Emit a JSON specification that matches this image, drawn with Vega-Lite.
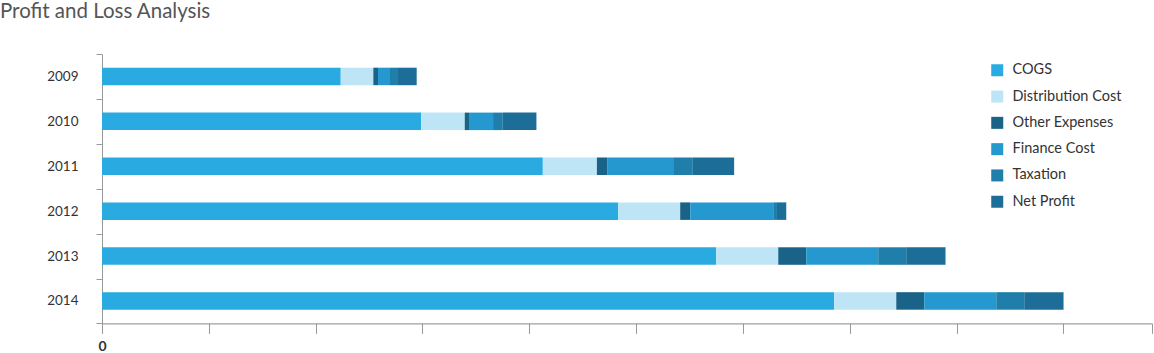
{
  "$schema": "https://vega.github.io/schema/vega-lite/v6.json",
  "width": 1050,
  "height": 269.4,
  "autosize": {"type": "none"},
  "padding": {"left": 102, "top": 54, "right": 2, "bottom": 30},
  "background": "white",
  "title": {
    "text": "Profit and Loss Analysis",
    "anchor": "start",
    "frame": "group",
    "offset": 20,
    "dx": -102,
    "dy": -4,
    "font": "Lato",
    "fontSize": 20.5,
    "fontWeight": "normal",
    "color": "#555555"
  },
  "config": {
    "view": {"stroke": null},
    "font": "Lato"
  },
  "data": {
    "values": [
      {"year": "2009", "item": "COGS", "k": 1, "value": 223.5},
      {"year": "2009", "item": "Distribution Cost", "k": 2, "value": 30.5},
      {"year": "2009", "item": "Other Expenses", "k": 3, "value": 4.4},
      {"year": "2009", "item": "Finance Cost", "k": 4, "value": 11.2},
      {"year": "2009", "item": "Taxation", "k": 5, "value": 7.5},
      {"year": "2009", "item": "Net Profit", "k": 6, "value": 17.5},
      {"year": "2010", "item": "COGS", "k": 1, "value": 298.7},
      {"year": "2010", "item": "Distribution Cost", "k": 2, "value": 40.9},
      {"year": "2010", "item": "Other Expenses", "k": 3, "value": 4.0},
      {"year": "2010", "item": "Finance Cost", "k": 4, "value": 22.5},
      {"year": "2010", "item": "Taxation", "k": 5, "value": 9.1},
      {"year": "2010", "item": "Net Profit", "k": 6, "value": 31.5},
      {"year": "2011", "item": "COGS", "k": 1, "value": 412.7},
      {"year": "2011", "item": "Distribution Cost", "k": 2, "value": 50.6},
      {"year": "2011", "item": "Other Expenses", "k": 3, "value": 9.6},
      {"year": "2011", "item": "Finance Cost", "k": 4, "value": 61.8},
      {"year": "2011", "item": "Taxation", "k": 5, "value": 18.4},
      {"year": "2011", "item": "Net Profit", "k": 6, "value": 38.7},
      {"year": "2012", "item": "COGS", "k": 1, "value": 483.2},
      {"year": "2012", "item": "Distribution Cost", "k": 2, "value": 58.1},
      {"year": "2012", "item": "Other Expenses", "k": 3, "value": 9.4},
      {"year": "2012", "item": "Finance Cost", "k": 4, "value": 77.7},
      {"year": "2012", "item": "Taxation", "k": 5, "value": 3.5},
      {"year": "2012", "item": "Net Profit", "k": 6, "value": 8.7},
      {"year": "2013", "item": "COGS", "k": 1, "value": 575.0},
      {"year": "2013", "item": "Distribution Cost", "k": 2, "value": 58.1},
      {"year": "2013", "item": "Other Expenses", "k": 3, "value": 26.2},
      {"year": "2013", "item": "Finance Cost", "k": 4, "value": 67.4},
      {"year": "2013", "item": "Taxation", "k": 5, "value": 26.2},
      {"year": "2013", "item": "Net Profit", "k": 6, "value": 36.8},
      {"year": "2014", "item": "COGS", "k": 1, "value": 685.5},
      {"year": "2014", "item": "Distribution Cost", "k": 2, "value": 58.1},
      {"year": "2014", "item": "Other Expenses", "k": 3, "value": 26.2},
      {"year": "2014", "item": "Finance Cost", "k": 4, "value": 67.4},
      {"year": "2014", "item": "Taxation", "k": 5, "value": 26.2},
      {"year": "2014", "item": "Net Profit", "k": 6, "value": 36.8}
    ]
  },
  "mark": {"type": "bar", "height": {"band": 0.39}},
  "encoding": {
    "y": {
      "field": "year",
      "type": "nominal",
      "sort": ["2009", "2010", "2011", "2012", "2013", "2014"],
      "scale": {"paddingInner": 0, "paddingOuter": 0},
      "axis": {
        "title": null,
        "tickBand": "extent",
        "domainColor": "#999999",
        "tickColor": "#999999",
        "tickSize": 6,
        "labelPadding": 18,
        "labelFontSize": 13.5,
        "labelColor": "#333333",
        "labelFont": "Lato"
      }
    },
    "x": {
      "field": "value",
      "type": "quantitative",
      "stack": "zero",
      "scale": {"domain": [0, 983], "nice": false},
      "axis": {
        "title": null,
        "grid": false,
        "values": [0, 100, 200, 300, 400, 500, 600, 700, 800, 900, 983],
        "labelExpr": "datum.value == 0 ? '0' : ''",
        "labelFlush": false,
        "domainColor": "#888888",
        "tickColor": "#999999",
        "tickSize": 10,
        "labelPadding": 6,
        "labelFontSize": 14,
        "labelFontWeight": "bold",
        "labelColor": "#333333",
        "labelFont": "Lato"
      }
    },
    "order": {"field": "k", "type": "quantitative"},
    "color": {
      "field": "item",
      "type": "nominal",
      "scale": {
        "domain": ["COGS", "Distribution Cost", "Other Expenses", "Finance Cost", "Taxation", "Net Profit"],
        "range": ["#29aae1", "#bee5f5", "#1a6388", "#2598cf", "#1f7eaa", "#1c6e98"]
      },
      "legend": {
        "title": null,
        "orient": "none",
        "legendX": 888,
        "legendY": 9,
        "padding": 0,
        "symbolType": "square",
        "symbolSize": 144,
        "symbolStrokeWidth": 0,
        "labelFontSize": 14.5,
        "labelColor": "#333333",
        "labelFont": "Lato",
        "labelOffset": 8,
        "rowPadding": 11.3
      }
    }
  }
}
